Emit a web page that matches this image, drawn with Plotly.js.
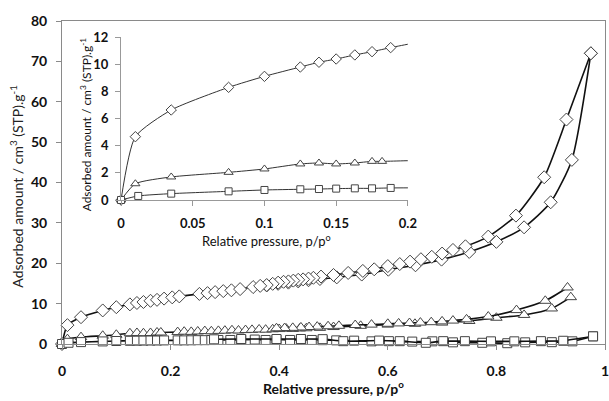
<!DOCTYPE html>
<html>
<head>
<meta charset="utf-8">
<script src="https://cdn.plot.ly/plotly-3.0.1.min.js"></script>
<style>
html,body{margin:0;padding:0;background:#fff;}
#chart{width:609px;height:401px;}
</style>
</head>
<body>
<div id="chart"></div>
<script>
// Diamond series (adsorption / desorption branches)
var diaAdsX = [0, 0.01, 0.035, 0.075, 0.1, 0.125, 0.138, 0.15, 0.163, 0.175, 0.188, 0.203, 0.216, 0.253, 0.268, 0.282, 0.297, 0.312, 0.328, 0.352, 0.377, 0.398, 0.417, 0.435, 0.454, 0.475, 0.506, 0.552, 0.601, 0.651, 0.699, 0.75, 0.8, 0.851, 0.9, 0.939, 0.974];
var diaAdsY = [0, 4.67, 6.64, 8.31, 9.12, 9.81, 10.16, 10.4, 10.7, 10.94, 11.24, 11.55, 11.8, 12.4, 12.6, 12.85, 13.1, 13.3, 13.6, 14.1, 14.5, 14.9, 15.2, 15.5, 15.8, 16.1, 16.5, 17.2, 18.4, 19.5, 20.9, 22.8, 25.3, 28.9, 35.1, 45.6, 72.0];
var diaDesX = [0.974, 0.929, 0.888, 0.836, 0.785, 0.743, 0.72, 0.70, 0.681, 0.661, 0.641, 0.622, 0.6, 0.575, 0.554, 0.527, 0.5, 0.477, 0.463, 0.454, 0.444, 0.435, 0.426, 0.417, 0.408, 0.398, 0.388, 0.377, 0.365];
var diaDesY = [72.0, 55.6, 41.3, 31.8, 26.6, 24.2, 23.3, 22.4, 21.6, 21.0, 20.4, 19.8, 19.3, 18.5, 18.1, 17.6, 17.1, 16.7, 16.4, 16.2, 16.0, 15.9, 15.7, 15.5, 15.4, 15.2, 14.9, 14.6, 14.4];

// Triangle series
var triAdsX = [0, 0.01, 0.035, 0.075, 0.1, 0.125, 0.138, 0.15, 0.163, 0.175, 0.182, 0.213, 0.225, 0.238, 0.25, 0.263, 0.275, 0.288, 0.3, 0.313, 0.325, 0.338, 0.35, 0.363, 0.375, 0.388, 0.4, 0.413, 0.425, 0.438, 0.45, 0.475, 0.5, 0.55, 0.6, 0.65, 0.7, 0.75, 0.8, 0.851, 0.902, 0.937];
var triAdsY = [0, 1.2, 1.7, 2.04, 2.29, 2.66, 2.73, 2.66, 2.73, 2.85, 2.85, 2.95, 3.05, 3.0, 3.1, 3.2, 3.15, 3.25, 3.3, 3.4, 3.35, 3.45, 3.5, 3.6, 3.55, 3.65, 3.7, 3.8, 3.75, 3.85, 3.9, 4.0, 4.2, 4.5, 4.8, 5.0, 5.3, 5.7, 6.5, 7.2, 8.8, 11.6];
var triDesX = [0.931, 0.89, 0.837, 0.785, 0.745, 0.72, 0.7, 0.68, 0.66, 0.64, 0.62, 0.6, 0.57, 0.54, 0.51, 0.49, 0.47, 0.455, 0.44, 0.425, 0.41, 0.395];
var triDesY = [14.0, 10.7, 8.4, 6.8, 6.1, 5.8, 5.6, 5.4, 5.3, 5.2, 5.1, 5.0, 4.8, 4.7, 4.5, 4.4, 4.3, 4.2, 4.1, 4.0, 3.95, 3.9];

// Square series
var sqAdsX = [0, 0.012, 0.035, 0.075, 0.1, 0.125, 0.138, 0.15, 0.163, 0.175, 0.188, 0.213, 0.225, 0.238, 0.25, 0.263, 0.275, 0.288, 0.31, 0.33, 0.355, 0.375, 0.395, 0.42, 0.44, 0.46, 0.48, 0.505, 0.538, 0.57, 0.602, 0.645, 0.682, 0.72, 0.774, 0.82, 0.853, 0.902, 0.94, 0.978];
var sqAdsY = [0, 0.3, 0.47, 0.64, 0.74, 0.79, 0.81, 0.84, 0.86, 0.86, 0.89, 0.9, 0.9, 0.92, 0.95, 0.95, 0.98, 1.0, 1.0, 1.05, 1.1, 1.0, 1.1, 1.0, 1.05, 1.0, 0.95, 0.9, 0.83, 0.66, 0.7, 0.6, 0.66, 0.41, 0.3, 0.2, 0.41, 0.45, 0.66, 1.9];
var sqDesX = [0.978, 0.923, 0.882, 0.833, 0.79, 0.742, 0.702, 0.67, 0.622, 0.584, 0.518, 0.48, 0.44, 0.395, 0.33, 0.28];
var sqDesY = [1.9, 0.8, 0.7, 0.66, 0.66, 0.7, 0.7, 0.3, 0.7, 0.85, 0.7, 1.2, 1.24, 1.24, 1.24, 1.16];

// Tick labels and titles
var mainXTicks = [0, 0.2, 0.4, 0.6, 0.8, 1];
var mainXLabels = ['0', '0.2', '0.4', '0.6', '0.8', '1'];
var insetXTicks = [0, 0.05, 0.1, 0.15, 0.2];
var insetXLabels = ['0', '0.05', '0.1', '0.15', '0.2'];
var xTitle = 'Relative pressure, p/p<sup>o</sup>';
var yTitle = 'Adsorbed amount / cm<sup>3</sup> (STP).g<sup>-1</sup>';

var insetMax = 0.2;
var series = [
  {x: diaAdsX, y: diaAdsY, sym: 'diamond', ms: 10, ims: 8},
  {x: diaDesX, y: diaDesY, sym: 'diamond', ms: 10, ims: 8},
  {x: triAdsX, y: triAdsY, sym: 'triangle-up', ms: 10, ims: 8},
  {x: triDesX, y: triDesY, sym: 'triangle-up', ms: 10, ims: 8},
  {x: sqAdsX, y: sqAdsY, sym: 'square', ms: 9, ims: 7},
  {x: sqDesX, y: sqDesY, sym: 'square', ms: 9, ims: 7}
];

var traces = [];
series.forEach(function(s){
  traces.push({
    x: s.x, y: s.y, xaxis: 'x', yaxis: 'y', type: 'scatter', mode: 'lines+markers',
    line: {color: '#111', width: 1.6, shape: 'spline', smoothing: 0.6},
    marker: {symbol: s.sym, size: s.ms, color: '#fff', line: {color: '#444', width: 1}},
    cliponaxis: false, hoverinfo: 'skip', showlegend: false
  });
});
// inset: lines from full data (clipped), markers for points within range
[0, 2, 4].forEach(function(i){
  var s = series[i];
  traces.push({
    x: s.x, y: s.y, xaxis: 'x2', yaxis: 'y2', type: 'scatter', mode: 'lines',
    line: {color: '#333', width: 1, shape: 'spline', smoothing: 0.6},
    hoverinfo: 'skip', showlegend: false
  });
  var mx = [], my = [];
  for (var k = 0; k < s.x.length; k++) { if (s.x[k] <= insetMax) { mx.push(s.x[k]); my.push(s.y[k]); } }
  traces.push({
    x: mx, y: my, xaxis: 'x2', yaxis: 'y2', type: 'scatter', mode: 'markers',
    marker: {symbol: s.sym, size: s.ims, color: '#fff', line: {color: '#444', width: 1}},
    cliponaxis: false, hoverinfo: 'skip', showlegend: false
  });
});

var tickFont = {family: 'Lato, "Open Sans", sans-serif', size: 14, color: '#111', weight: 'bold'};
var insetTickFont = {family: 'Lato, sans-serif', size: 13, color: '#111', weight: 'bold'};
var layout = {
  width: 609, height: 401,
  margin: {l: 62, r: 4, t: 21, b: 57},
  paper_bgcolor: '#fff', plot_bgcolor: 'rgba(0,0,0,0)',
  font: {family: 'Lato, "Open Sans", sans-serif', color: '#111'},
  xaxis: {
    domain: [0, 1], range: [0, 1], tickvals: mainXTicks, ticktext: mainXLabels,
    showline: true, mirror: true, linecolor: '#8a8a8a', linewidth: 1,
    ticks: 'outside', ticklen: 5, tickcolor: '#8a8a8a', showgrid: false, zeroline: false,
    tickfont: tickFont, ticklabelstandoff: 9, ticklabeloverflow: 'allow'
  },
  yaxis: {
    domain: [0, 1], range: [0, 80], dtick: 10,
    showline: true, mirror: true, linecolor: '#8a8a8a', linewidth: 1,
    ticks: 'outside', ticklen: 5, tickcolor: '#8a8a8a', showgrid: false, zeroline: false,
    tickfont: tickFont, ticklabelstandoff: 6
  },
  xaxis2: {
    anchor: 'y2', domain: [0.1087, 0.637], range: [0, 0.2], tickvals: insetXTicks, ticktext: insetXLabels,
    showline: true, linecolor: '#999', linewidth: 1, ticks: 'outside', ticklen: 5, tickcolor: '#999',
    showgrid: false, zeroline: false, tickfont: insetTickFont, ticklabelstandoff: 6
  },
  yaxis2: {
    anchor: 'x2', domain: [0.4458, 0.9495], range: [0, 12], dtick: 2,
    showline: true, linecolor: '#999', linewidth: 1, ticks: 'outside', ticklen: 5, tickcolor: '#999',
    showgrid: false, zeroline: false, tickfont: insetTickFont, ticklabelstandoff: 4
  },
  annotations: [
    {text: xTitle, xref: 'paper', yref: 'paper', x: 0.5, y: -0.136, xanchor: 'center', yanchor: 'middle', showarrow: false,
     font: {family: 'Lato, sans-serif', size: 14, color: '#111', weight: 'bold'}},
    {text: yTitle, xref: 'paper', yref: 'paper', x: -0.083, y: 0.49, xanchor: 'center', yanchor: 'middle', textangle: -90, showarrow: false,
     font: {family: 'Lato, sans-serif', size: 14, color: '#222'}},
    {text: xTitle, xref: 'paper', yref: 'paper', x: 0.3775, y: 0.319, xanchor: 'center', yanchor: 'middle', showarrow: false,
     font: {family: 'Lato, sans-serif', size: 13, color: '#111'}},
    {text: yTitle, xref: 'paper', yref: 'paper', x: 0.0442, y: 0.68, xanchor: 'center', yanchor: 'middle', textangle: -90, showarrow: false,
     font: {family: 'Lato, sans-serif', size: 12, color: '#111'}}
  ]
};
Plotly.newPlot('chart', traces, layout, {staticPlot: true, displayModeBar: false});
</script>
</body>
</html>
